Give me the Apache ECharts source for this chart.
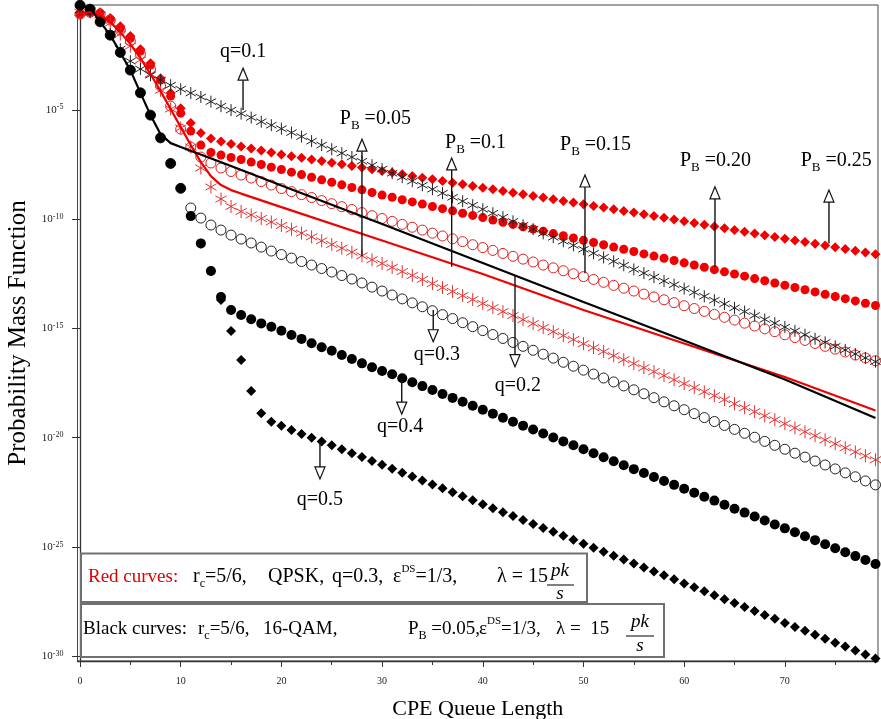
<!DOCTYPE html>
<html><head><meta charset="utf-8">
<script src="https://cdn.jsdelivr.net/npm/echarts@6/dist/echarts.min.js"></script>
<style>html,body{margin:0;padding:0;background:#fff}#c{width:881px;height:719px}</style>
</head><body><div id="c"></div>
<script>
// ---- data (log10 of PMF) ----
const queueLength = [0,1,2,3,4,5,6,7,8,9,10,11,12,13,14,15,16,17,18,19,20,21,22,23,24,25,26,27,28,29,30,31,32,33,34,35,36,37,38,39,40,41,42,43,44,45,46,47,48,49,50,51,52,53,54,55,56,57,58,59,60,61,62,63,64,65,66,67,68,69,70,71,72,73,74,75,76,77,78,79];
const xMajorTicks = [0,10,20,30,40,50,60,70];
const xMinorTicks = [5,15,25,35,45,55,65,75];
const yTicks = [-30,-25,-20,-15,-10,-5];

// Red curves: QPSK, q=0.3, varying P_B
const redPB025 = [-0.57,-0.48,-0.53,-0.80,-1.17,-1.62,-2.22,-2.86,-3.55,-4.23,-4.92,-5.60,-6.06,-6.31,-6.45,-6.56,-6.68,-6.77,-6.86,-6.95,-7.04,-7.12,-7.19,-7.27,-7.34,-7.42,-7.49,-7.57,-7.64,-7.72,-7.80,-7.87,-7.95,-8.02,-8.10,-8.17,-8.25,-8.33,-8.40,-8.48,-8.56,-8.63,-8.71,-8.79,-8.86,-8.94,-9.01,-9.09,-9.17,-9.24,-9.32,-9.40,-9.47,-9.55,-9.63,-9.70,-9.78,-9.86,-9.94,-10.02,-10.10,-10.18,-10.26,-10.34,-10.42,-10.50,-10.58,-10.66,-10.74,-10.82,-10.90,-10.98,-11.05,-11.13,-11.21,-11.29,-11.37,-11.45,-11.53,-11.61];
const redPB020 = [-0.62,-0.53,-0.57,-0.85,-1.26,-1.72,-2.31,-2.95,-3.64,-4.37,-5.15,-5.97,-6.61,-6.95,-7.07,-7.18,-7.27,-7.39,-7.50,-7.62,-7.73,-7.85,-7.96,-8.08,-8.20,-8.31,-8.43,-8.55,-8.66,-8.78,-8.90,-9.00,-9.11,-9.21,-9.31,-9.42,-9.52,-9.62,-9.73,-9.83,-9.93,-10.04,-10.14,-10.24,-10.35,-10.45,-10.55,-10.66,-10.76,-10.86,-10.97,-11.07,-11.17,-11.28,-11.38,-11.48,-11.59,-11.69,-11.79,-11.89,-12.00,-12.10,-12.20,-12.31,-12.41,-12.51,-12.61,-12.72,-12.82,-12.92,-13.03,-13.13,-13.23,-13.33,-13.44,-13.54,-13.64,-13.74,-13.85,-13.95];
const redPB015 = [-0.62,-0.53,-0.62,-0.89,-1.35,-1.85,-2.45,-3.13,-3.91,-4.83,-5.88,-6.70,-7.16,-7.43,-7.66,-7.82,-7.98,-8.12,-8.28,-8.44,-8.60,-8.74,-8.88,-9.01,-9.15,-9.29,-9.43,-9.56,-9.70,-9.84,-9.97,-10.10,-10.24,-10.37,-10.50,-10.64,-10.77,-10.90,-11.03,-11.17,-11.30,-11.43,-11.57,-11.70,-11.83,-11.96,-12.10,-12.23,-12.36,-12.50,-12.63,-12.76,-12.89,-13.03,-13.16,-13.29,-13.43,-13.56,-13.69,-13.82,-13.96,-14.09,-14.22,-14.36,-14.49,-14.62,-14.76,-14.89,-15.02,-15.15,-15.29,-15.42,-15.55,-15.69,-15.82,-15.95,-16.08,-16.22,-16.35,-16.48];
const redPB005 = [-0.53,-0.48,-0.66,-1.03,-1.53,-2.08,-2.72,-3.36,-4.10,-4.96,-5.83,-6.70,-7.66,-8.53,-9.08,-9.42,-9.65,-9.81,-9.97,-10.13,-10.29,-10.46,-10.64,-10.81,-10.99,-11.16,-11.33,-11.51,-11.68,-11.86,-12.03,-12.21,-12.40,-12.58,-12.76,-12.95,-13.13,-13.31,-13.50,-13.68,-13.86,-14.05,-14.23,-14.41,-14.60,-14.78,-14.96,-15.15,-15.33,-15.51,-15.70,-15.88,-16.06,-16.25,-16.43,-16.61,-16.80,-16.98,-17.16,-17.35,-17.53,-17.71,-17.90,-18.08,-18.26,-18.45,-18.63,-18.81,-19.00,-19.18,-19.36,-19.55,-19.73,-19.91,-20.10,-20.28,-20.46,-20.65,-20.83,-21.01];
const redLineX = [0,1,2,3,4,5,6,7,8,9,10,11,12,13,14,15,16,20,30,40,50,60,70,79];
const redPB010 = [-0.62,-0.53,-0.66,-0.98,-1.44,-1.99,-2.63,-3.36,-4.14,-4.96,-5.79,-6.61,-7.39,-8.03,-8.44,-8.67,-8.83,-9.45,-10.98,-12.51,-14.16,-15.69,-17.22,-18.76];

// Black curves: 16-QAM, P_B=0.05, varying q
const blackQ01 = [-0.43,-0.53,-0.89,-1.53,-2.22,-2.77,-3.13,-3.41,-3.64,-3.87,-4.05,-4.23,-4.41,-4.62,-4.83,-5.01,-5.17,-5.35,-5.54,-5.70,-5.86,-6.04,-6.22,-6.43,-6.61,-6.80,-6.98,-7.16,-7.35,-7.53,-7.71,-7.90,-8.08,-8.26,-8.45,-8.63,-8.81,-9.00,-9.18,-9.36,-9.55,-9.73,-9.91,-10.10,-10.28,-10.46,-10.65,-10.83,-11.01,-11.20,-11.38,-11.56,-11.75,-11.93,-12.11,-12.30,-12.47,-12.65,-12.83,-13.00,-13.18,-13.35,-13.53,-13.71,-13.88,-14.06,-14.23,-14.41,-14.59,-14.76,-14.94,-15.11,-15.29,-15.47,-15.64,-15.82,-15.99,-16.17,-16.35,-16.52];
const blackQ03 = [-0.21,-0.39,-0.97,-1.58,-2.37,-3.18,-4.22,-5.24,-6.28,-7.45,-8.59,-9.49,-9.95,-10.27,-10.50,-10.73,-10.91,-11.09,-11.28,-11.46,-11.62,-11.78,-11.94,-12.10,-12.26,-12.42,-12.58,-12.74,-12.92,-13.11,-13.29,-13.47,-13.65,-13.83,-14.01,-14.19,-14.37,-14.55,-14.74,-14.92,-15.10,-15.28,-15.46,-15.64,-15.82,-16.00,-16.18,-16.36,-16.55,-16.73,-16.91,-17.09,-17.27,-17.45,-17.63,-17.81,-17.99,-18.17,-18.36,-18.54,-18.72,-18.90,-19.08,-19.26,-19.44,-19.62,-19.80,-19.98,-20.17,-20.35,-20.53,-20.71,-20.89,-21.07,-21.25,-21.43,-21.61,-21.79,-21.98,-22.16];
const blackQ04 = [-0.21,-0.39,-0.97,-1.58,-2.37,-3.18,-4.22,-5.24,-6.28,-7.45,-8.59,-9.86,-11.11,-12.37,-13.56,-14.16,-14.39,-14.58,-14.77,-14.92,-15.11,-15.30,-15.48,-15.68,-15.86,-16.02,-16.22,-16.40,-16.60,-16.78,-16.95,-17.10,-17.28,-17.46,-17.64,-17.82,-18.00,-18.18,-18.36,-18.54,-18.72,-18.90,-19.09,-19.27,-19.45,-19.63,-19.81,-19.99,-20.17,-20.35,-20.53,-20.71,-20.90,-21.08,-21.26,-21.44,-21.62,-21.80,-21.98,-22.16,-22.34,-22.52,-22.70,-22.88,-23.07,-23.25,-23.43,-23.61,-23.79,-23.97,-24.15,-24.33,-24.51,-24.69,-24.88,-25.06,-25.24,-25.42,-25.60,-25.78];
const blackQ05 = [-0.21,-0.39,-0.97,-1.58,-2.37,-3.18,-4.22,-5.24,-6.28,-7.45,-8.59,-9.86,-11.11,-12.37,-13.70,-15.12,-16.45,-17.86,-18.88,-19.27,-19.45,-19.65,-19.83,-20.00,-20.18,-20.35,-20.53,-20.71,-20.88,-21.07,-21.24,-21.42,-21.60,-21.78,-21.96,-22.14,-22.32,-22.50,-22.68,-22.86,-23.05,-23.23,-23.41,-23.59,-23.77,-23.95,-24.13,-24.31,-24.49,-24.67,-24.86,-25.04,-25.22,-25.40,-25.58,-25.76,-25.94,-26.12,-26.30,-26.48,-26.67,-26.85,-27.03,-27.21,-27.39,-27.57,-27.75,-27.93,-28.11,-28.29,-28.48,-28.66,-28.84,-29.02,-29.20,-29.38,-29.56,-29.74,-29.92,-30.10];
const blackLineX = [0,1,2,3,4,5,6,7,8,9,10,15,20,30,40,50,60,70,79];
const blackQ02 = [-0.21,-0.34,-0.97,-1.58,-2.37,-3.18,-4.22,-5.24,-6.11,-6.52,-6.70,-7.57,-8.46,-10.22,-12.01,-13.79,-15.55,-17.34,-19.10];

// annotation arrows: [queue length, log10 at curve, log10 at arrow tip]
const arrowSpecs = [
  [16.19,-5.01,-3.09],[28.00,-11.69,-6.34],[36.91,-12.18,-7.20],[50.15,-12.48,-7.98],
  [63.06,-12.18,-8.52],[74.38,-11.11,-8.67],[35.08,-14.16,-15.61],[43.20,-12.56,-16.75],
  [31.95,-17.28,-18.92],[23.83,-20.18,-21.89]
];
// annotation labels: [x, y, text]
const qLabels = [[16.19,-2.33,'q=0.1'],[35.45,-16.20,'q=0.3'],[43.49,-17.64,'q=0.2'],[31.78,-19.50,'q=0.4'],[23.83,-22.85,'q=0.5']];
const pbLabels = [[25.80,-5.42,'0.05'],[36.25,-6.52,'0.1'],[47.67,-6.61,'0.15'],[59.58,-7.34,'0.20'],[71.57,-7.34,'0.25']];

const SERIF = "'Liberation Serif','Times New Roman',serif";
const STAR = 'path://M0,-10L0,10M-8.66,-5L8.66,5M-8.66,5L8.66,-5';
const RED = '#f00000';
function pts(ys, xs) { xs = xs || queueLength; return ys.map((y, i) => [xs[i], y]); }
function sc(name, ys, symbol, size, fill, stroke, bw) {
  return { type: 'scatter', name, data: pts(ys), symbol, symbolSize: size, symbolKeepAspect: true, clip: false,
    itemStyle: { color: fill, borderColor: stroke, borderWidth: bw, opacity: 1 }, emphasis: { disabled: true }, silent: true };
}

const chart = echarts.init(document.getElementById('c'), null, { renderer: 'canvas' });
chart.setOption({
  animation: false,
  backgroundColor: '#fff',
  grid: { left: 77.5, right: 3, top: 5, bottom: 58, show: true, borderColor: '#444', borderWidth: 1, backgroundColor: 'transparent',
          containLabel: false, outerBoundsMode: 'none' },
  xAxis: [{
    type: 'value', min: -0.25, max: 79.25,
    axisLine: { show: true, lineStyle: { color: '#333', width: 1.3 } },
    axisTick: { show: true, customValues: xMajorTicks, length: 6, lineStyle: { color: '#333', width: 1 } },
    axisLabel: { customValues: xMajorTicks, margin: 15, fontSize: 10, fontFamily: SERIF, color: '#222' },
    splitLine: { show: false },
    name: 'CPE Queue Length', nameLocation: 'middle', nameGap: 37,
    nameTextStyle: { fontSize: 22, fontFamily: SERIF, color: '#000' }
  }, {
    type: 'value', min: -0.25, max: 79.25, position: 'bottom',
    axisLine: { show: false },
    axisTick: { show: true, customValues: xMinorTicks, length: 4, lineStyle: { color: '#333', width: 1 } },
    axisLabel: { show: false }, splitLine: { show: false }
  }],
  yAxis: {
    type: 'value', min: -30.22, max: -0.2,
    axisLine: { show: true, lineStyle: { color: '#333', width: 1.3 } },
    axisTick: { show: true, customValues: yTicks, length: 8, lineStyle: { color: '#333', width: 1 } },
    axisLabel: {
      customValues: yTicks, margin: 14,
      formatter: v => '{b|10}{s|-' + Math.abs(v) + '}',
      rich: {
        b: { fontSize: 11, fontFamily: SERIF, color: '#222', lineHeight: 13 },
        s: { fontSize: 8, fontFamily: SERIF, color: '#222', lineHeight: 9, verticalAlign: 'top' }
      }
    },
    splitLine: { show: false },
    name: 'Probability Mass Function', nameLocation: 'middle', nameGap: 38,
    nameTextStyle: { fontSize: 25, fontFamily: SERIF, color: '#000' }
  },
  series: [
    sc('PB=0.25', redPB025, 'diamond', 10, RED, RED, 0),
    sc('PB=0.20', redPB020, 'circle', 9, RED, RED, 0),
    sc('PB=0.15', redPB015, 'circle', 10, 'rgba(0,0,0,0)', '#e02020', 1),
    sc('PB=0.05', redPB005, STAR, 13, 'rgba(0,0,0,0)', '#e53030', 1),
    { type: 'line', name: 'PB=0.1', data: pts(redPB010, redLineX), showSymbol: false, clip: false, silent: true,
      lineStyle: { color: RED, width: 2.2 } },
    sc('q=0.1', blackQ01, STAR, 12, 'rgba(0,0,0,0)', '#222', 1),
    sc('q=0.3', blackQ03, 'circle', 10, 'rgba(0,0,0,0)', '#222', 1),
    sc('q=0.5', blackQ05, 'diamond', 10, '#000', '#000', 0),
    sc('q=0.4', blackQ04, 'circle', 10, '#000', '#000', 0),
    { type: 'line', name: 'q=0.2', data: pts(blackQ02, blackLineX), showSymbol: false, clip: false, silent: true,
      lineStyle: { color: '#000', width: 2.2 } }
  ]
});

// ---- annotations and info boxes ----
function px(p) { return chart.convertToPixel({ xAxisIndex: 0, yAxisIndex: 0 }, p); }
const g = [];
arrowSpecs.forEach(a => {
  const p0 = px([a[0], a[1]]), p1 = px([a[0], a[2]]);
  const dir = p1[1] < p0[1] ? -1 : 1;
  const triH = 12, triW = 10;
  const baseY = p1[1] - dir * triH;
  g.push({ type: 'line', silent: true, z: 50, shape: { x1: p0[0], y1: p0[1], x2: p0[0], y2: baseY }, style: { stroke: '#111', lineWidth: 1.4 } });
  g.push({ type: 'polygon', silent: true, z: 51, shape: { points: [[p1[0], p1[1]], [p1[0] - triW / 2, baseY], [p1[0] + triW / 2, baseY]] }, style: { fill: '#fff', stroke: '#111', lineWidth: 1.2 } });
});
const annRich = {
  a: { fontSize: 20, fontFamily: SERIF, fill: '#000', lineHeight: 26 },
  b: { fontSize: 13, fontFamily: SERIF, fill: '#000', verticalAlign: 'bottom' }
};
qLabels.forEach(l => {
  const p = px([l[0], l[1]]);
  g.push({ type: 'text', silent: true, z: 52, x: p[0], y: p[1], style: { text: '{a|' + l[2] + '}', rich: annRich, align: 'center', verticalAlign: 'middle' } });
});
pbLabels.forEach(l => {
  const p = px([l[0], l[1]]);
  g.push({ type: 'text', silent: true, z: 52, x: p[0], y: p[1], style: { text: '{a|P}{b|B}{a| =' + l[2] + '}', rich: annRich, align: 'left', verticalAlign: 'middle' } });
});

// info boxes
g.push({ type: 'rect', silent: true, z: 60, shape: { x: 81, y: 553.5, width: 506, height: 48.5 }, style: { fill: '#fff', stroke: '#707070', lineWidth: 2 } });
g.push({ type: 'rect', silent: true, z: 60, shape: { x: 81, y: 604, width: 583, height: 53 }, style: { fill: '#fff', stroke: '#707070', lineWidth: 2 } });
const boxRich = {
  m: { fontSize: 19, fontFamily: SERIF, fill: '#000', lineHeight: 26 },
  w: { fontSize: 20, fontFamily: SERIF, fill: '#000', lineHeight: 26 },
  r: { fontSize: 19, fontFamily: SERIF, fill: '#e00000', lineHeight: 26 },
  sub: { fontSize: 12, fontFamily: SERIF, fill: '#000', verticalAlign: 'bottom' },
  sup: { fontSize: 11, fontFamily: SERIF, fill: '#000', verticalAlign: 'top', lineHeight: 20 }
};
function bt(x, y, text) {
  g.push({ type: 'text', silent: true, z: 61, x, y, style: { text, rich: boxRich, align: 'left', verticalAlign: 'middle' } });
}
function frac(cx, yTop, yBar, yBot, x1, x2) {
  g.push({ type: 'text', silent: true, z: 61, x: cx, y: yTop, style: { text: 'pk', fontSize: 19, fontStyle: 'italic', fontFamily: SERIF, fill: '#000', align: 'center', verticalAlign: 'middle' } });
  g.push({ type: 'line', silent: true, z: 61, shape: { x1, y1: yBar, x2, y2: yBar }, style: { stroke: '#000', lineWidth: 1 } });
  g.push({ type: 'text', silent: true, z: 61, x: cx, y: yBot, style: { text: 's', fontSize: 19, fontStyle: 'italic', fontFamily: SERIF, fill: '#000', align: 'center', verticalAlign: 'middle' } });
}
const r1 = 577, r2 = 629;
bt(88, r1, '{r|Red curves:}');
bt(193, r1, '{w|r}{sub|c}{w|=5/6,}');
bt(268, r1, '{w|QPSK,}');
bt(332, r1, '{w|q=0.3,}');
bt(393, r1, '{w|ε}{sup|DS}{w|=1/3,}');
bt(497, r1, '{w|λ = 15}');
frac(560, 571, 585, 594, 547, 574);

bt(83, r2, '{m|Black curves:}');
bt(198, r2, '{m|r}{sub|c}{m|=5/6,}');
bt(263, r2, '{m|16-QAM,}');
bt(408, r2, '{m|P}{sub|B}{m| =0.05,}');
bt(479, r2, '{m|ε}{sup|DS}{m|=1/3,}');
bt(556, r2, '{m|λ =  15}');
frac(640, 622, 636, 646, 626, 654);

chart.setOption({ graphic: g });
</script>
</body></html>
